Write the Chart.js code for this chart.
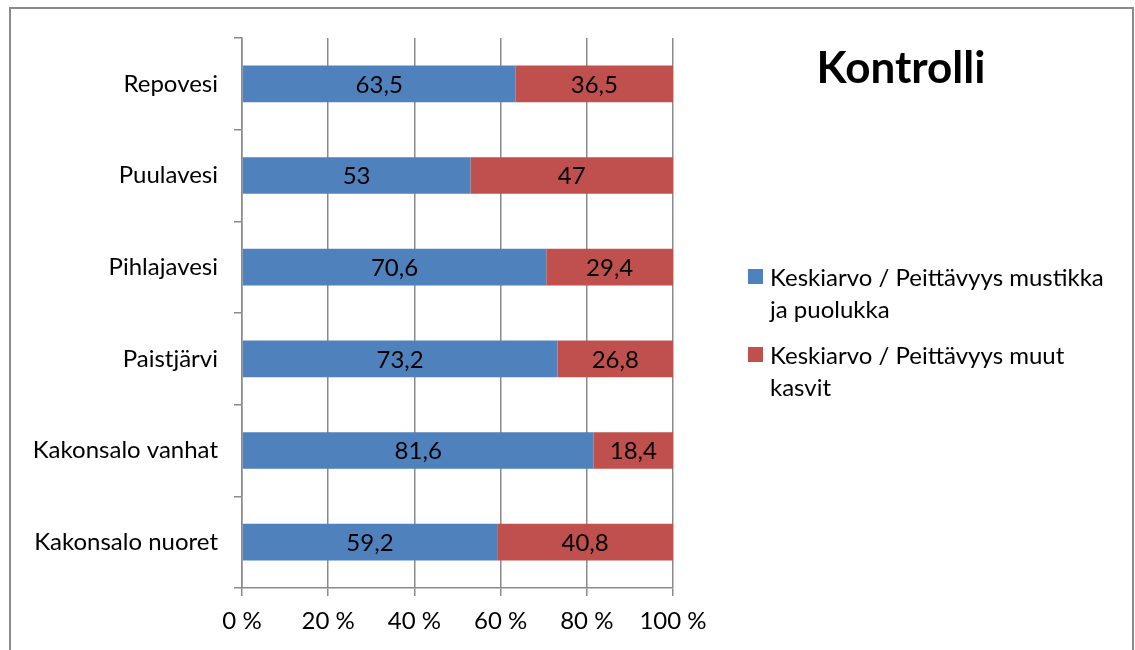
<!DOCTYPE html>
<html><head><meta charset="utf-8">
<script src="https://cdn.jsdelivr.net/npm/chart.js@4.4.0/dist/chart.umd.min.js"></script>
<style>html,body{margin:0;padding:0;background:#fff;}#wrap{position:relative;width:1135px;height:650px;}</style>
</head><body><div id="wrap"><canvas id="c" width="1135" height="650"></canvas></div>
<script>
const categories = ["Repovesi","Puulavesi","Pihlajavesi","Paistjärvi","Kakonsalo vanhat","Kakonsalo nuoret"];
const mustikkaPuolukka = [63.5, 53, 70.6, 73.2, 81.6, 59.2];
const muutKasvit = [36.5, 47, 29.4, 26.8, 18.4, 40.8];
const xTicks = [0, 20, 40, 60, 80, 100];
const seriesNames = [["Keskiarvo / Peittävyys mustikka","ja puolukka"],["Keskiarvo / Peittävyys muut","kasvit"]];
const titleText = "Kontrolli";
const colors = ["#4F81BD","#C0504D"];
const FONT = "Lato, 'Open Sans', sans-serif";
const FS = 24;

const framePlugin = {
  id:'frame',
  beforeDraw(chart){
    const ctx = chart.ctx;
    ctx.save();
    ctx.fillStyle='#fff'; ctx.fillRect(0,0,chart.width,chart.height);
    ctx.strokeStyle='#8a8a8a'; ctx.lineWidth=2;
    ctx.beginPath(); ctx.moveTo(10,660); ctx.lineTo(10,8); ctx.lineTo(1133,8); ctx.lineTo(1133,660); ctx.stroke();
    ctx.restore();
  }
};
const labelPlugin = {
  id:'vals',
  afterDatasetsDraw(chart){
    const ctx = chart.ctx;
    ctx.save();
    ctx.font = FS + "px " + FONT; ctx.fillStyle='#000'; ctx.textAlign='center'; ctx.textBaseline='middle';
    chart.data.datasets.forEach((ds,di)=>{
      chart.getDatasetMeta(di).data.forEach((bar,i)=>{
        const p = bar.getProps(['x','y','base'],true);
        ctx.fillText(String(ds.data[i]).replace('.',','), (p.x+p.base)/2, p.y+1);
      });
    });
    // title
    ctx.font = "bold 44px " + FONT; ctx.textBaseline='alphabetic';
    ctx.fillText(titleText, 901, 83);
    // legend
    ctx.font = FS + "px " + FONT; ctx.textAlign='left'; ctx.textBaseline='middle';
    const tops=[277,355];
    seriesNames.forEach((lines,k)=>{
      ctx.fillStyle=colors[k]; ctx.fillRect(748,tops[k]-8,15,15);
      ctx.fillStyle='#000';
      lines.forEach((t,j)=>ctx.fillText(t,770,tops[k]+1+j*32));
    });
    ctx.restore();
  }
};

new Chart(document.getElementById('c'),{
  type:'bar',
  data:{labels:categories,datasets:[
    {label:seriesNames[0].join(' '),data:mustikkaPuolukka,backgroundColor:colors[0]},
    {label:seriesNames[1].join(' '),data:muutKasvit,backgroundColor:colors[1]}
  ]},
  plugins:[framePlugin,labelPlugin],
  options:{
    indexAxis:'y',responsive:false,animation:false,
    layout:{padding:{top:38,right:462,left:0,bottom:0}},
    datasets:{bar:{categoryPercentage:1,barPercentage:0.4}},
    plugins:{legend:{display:false},tooltip:{enabled:false},title:{display:false}},
    scales:{
      x:{stacked:true,min:0,max:100,
        afterBuildTicks(s){s.ticks=xTicks.map(v=>({value:v}));},
        afterFit(s){s.height=62;},
        grid:{color:'#8a8a8a',lineWidth:1.5,tickLength:8,drawTicks:true},
        border:{color:'#8a8a8a',width:1.5},
        ticks:{padding:11,color:'#000',font:{family:FONT,size:FS},callback:v=>v+' %'}},
      y:{stacked:true,offset:true,
        afterFit(s){s.width=242;},
        grid:{offset:true,drawOnChartArea:false,color:'#8a8a8a',lineWidth:1.5,tickLength:8},
        border:{color:'#8a8a8a',width:1.5},
        ticks:{padding:16,color:'#000',font:{family:FONT,size:FS}}}
    }
  }
});
</script></body></html>
